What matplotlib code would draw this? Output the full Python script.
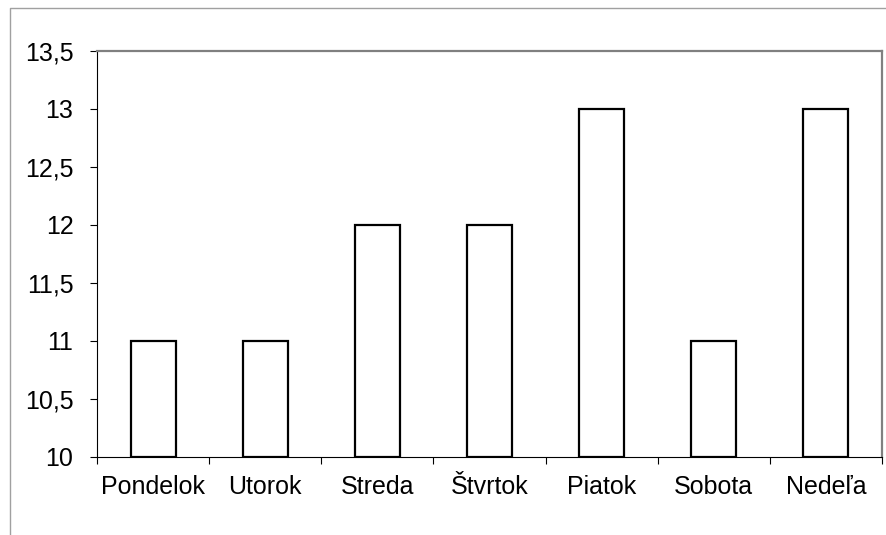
import numpy as np
import matplotlib.pyplot as plt
from matplotlib.lines import Line2D

plt.rcParams['font.family'] = ['Liberation Sans', 'DejaVu Sans']

days = ['Pondelok', 'Utorok', 'Streda', 'Štvrtok', 'Piatok', 'Sobota', 'Nedeľa']
values = [11, 11, 12, 12, 13, 11, 13]
y_ticks = [10, 10.5, 11, 11.5, 12, 12.5, 13, 13.5]

W, H = 887, 535
fig = plt.figure(figsize=(W / 100, H / 100), dpi=100)
ax = fig.add_axes([97 / W, (H - 457) / H, (882 - 97) / W, (457 - 51) / H])

x = np.arange(len(days))
ax.bar(x, [v - 10 for v in values], bottom=10, width=0.4,
       facecolor='white', edgecolor='black', linewidth=1.6, zorder=3)

ax.set_xlim(-0.5, len(days) - 0.5)
ax.set_ylim(10, 13.5)

ax.set_yticks(y_ticks)
ax.set_yticklabels([f'{v:g}'.replace('.', ',') for v in y_ticks])
ax.tick_params(axis='y', direction='out', length=5, width=0.8, pad=12,
               labelsize=18, color='black')

# category labels centred, tick marks between categories
ax.set_xticks(x)
ax.set_xticklabels(days)
ax.set_xticks(np.arange(len(days) + 1) - 0.5, minor=True)
ax.tick_params(axis='x', which='major', length=0, pad=13, labelsize=18)
ax.tick_params(axis='x', which='minor', direction='out', length=5, width=0.8,
               color='black')

for side in ('left', 'bottom'):
    ax.spines[side].set_color('black')
    ax.spines[side].set_linewidth(0.8)
for side in ('top', 'right'):
    ax.spines[side].set_color('#808080')
    ax.spines[side].set_linewidth(1.6)

# outer chart frame (top and left edges)
fig.add_artist(Line2D([10 / W, 10 / W, 1], [0, 1 - 8 / H, 1 - 8 / H],
                      transform=fig.transFigure, color='#a0a0a0', linewidth=1))

fig.savefig('out.png', dpi=100)
